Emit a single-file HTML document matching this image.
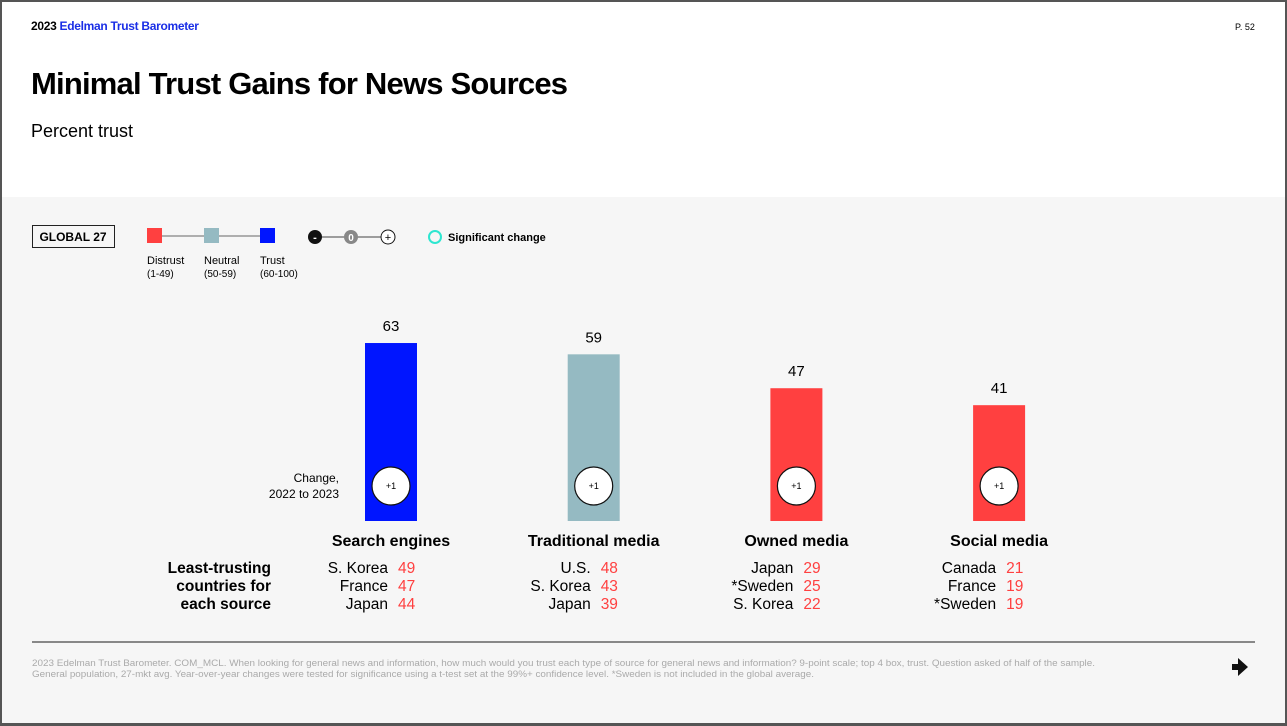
<!DOCTYPE html>
<html><head><meta charset="utf-8"><style>
*{margin:0;padding:0;box-sizing:border-box}
body{width:1287px;height:726px;overflow:hidden;font-family:"Liberation Sans",Arial,sans-serif;background:#555}
#page{position:absolute;left:2px;top:2px;width:1283px;height:721px;background:#f6f6f6}
#top{position:absolute;left:0;top:0;width:1283px;height:195px;background:#fff}
.abs{position:absolute;white-space:nowrap}
</style></head><body>
<div id="page">
<div id="top"></div>
<div class="abs" style="left:29px;top:17px;font-size:12px;font-weight:bold;letter-spacing:-0.3px">2023 <span style="color:#1a2ee6">Edelman Trust Barometer</span></div>
<div class="abs" style="left:1233px;top:20px;font-size:9px">P. 52</div>
<div class="abs" style="left:29px;top:64px;font-size:31px;font-weight:bold;letter-spacing:-0.8px">Minimal Trust Gains for News Sources</div>
<div class="abs" style="left:29px;top:119px;font-size:18px">Percent trust</div>
<svg class="abs" style="left:0;top:0" width="1283" height="721">
<g font-family="Liberation Sans, Arial, sans-serif">
<rect x="30.5" y="223.5" width="82" height="22" fill="none" stroke="#222"/>
<text x="71" y="239" font-size="12" font-weight="bold" text-anchor="middle">GLOBAL 27</text>
<line x1="153" y1="234" x2="266" y2="234" stroke="#666"/>
<rect x="145" y="226" width="15" height="15" fill="#ff4040"/>
<rect x="202" y="226" width="15" height="15" fill="#95bac2"/>
<rect x="258" y="226" width="15" height="15" fill="#0015ff"/>
<text x="145" y="262" font-size="11">Distrust</text><text x="145" y="275" font-size="10">(1-49)</text>
<text x="202" y="262" font-size="11">Neutral</text><text x="202" y="275" font-size="10">(50-59)</text>
<text x="258" y="262" font-size="11">Trust</text><text x="258" y="275" font-size="10">(60-100)</text>
<line x1="313" y1="235" x2="386" y2="235" stroke="#444"/>
<circle cx="313" cy="235" r="7" fill="#111"/><text x="313" y="239" font-size="11" fill="#fff" text-anchor="middle" font-weight="bold">-</text>
<circle cx="349" cy="235" r="7" fill="#888"/><text x="349" y="239" font-size="10" fill="#fff" text-anchor="middle" font-weight="bold">0</text>
<circle cx="386" cy="235" r="7" fill="#fff" stroke="#111"/><text x="386" y="239" font-size="11" text-anchor="middle">+</text>
<circle cx="433" cy="235" r="6" fill="none" stroke="#2ee6d0" stroke-width="2"/>
<text x="446" y="239" font-size="11" font-weight="bold">Significant change</text>
</g>
<text x="337" y="480" font-size="12" text-anchor="end">Change,</text>
<text x="337" y="496" font-size="12" text-anchor="end">2022 to 2023</text>
<g font-size="15.5" font-weight="bold" text-anchor="end">
<text x="269" y="571">Least-trusting</text><text x="269" y="589">countries for</text><text x="269" y="607">each source</text>
</g>
<g id="bars"></g>
<line x1="30" y1="640" x2="1253" y2="640" stroke="#888" stroke-width="2"/>
<text x="30" y="664" font-size="9" fill="#aaa" textLength="1063" lengthAdjust="spacingAndGlyphs">2023 Edelman Trust Barometer. COM_MCL. When looking for general news and information, how much would you trust each type of source for general news and information? 9-point scale; top 4 box, trust. Question asked of half of the sample.</text>
<text x="30" y="675" font-size="9" fill="#aaa" textLength="782" lengthAdjust="spacingAndGlyphs">General population, 27-mkt avg. Year-over-year changes were tested for significance using a t-test set at the 99%+ confidence level. *Sweden is not included in the global average.</text>
<path d="M1236 656 L1246 665 L1236 674 L1236 668 L1230 668 L1230 662 L1236 662 Z" fill="#111"/>
</svg>
</div>
<script>
const categories=["Search engines","Traditional media","Owned media","Social media"];
const trustValues=[63,59,47,41];
const changeLabels=["+1","+1","+1","+1"];
const countries=[["S. Korea","France","Japan"],["U.S.","S. Korea","Japan"],["Japan","*Sweden","S. Korea"],["Canada","France","*Sweden"]];
const countryValues=[[49,47,44],[48,43,39],[29,25,22],[21,19,19]];
const NS="http://www.w3.org/2000/svg";
const g=document.getElementById('bars');
const base=519,scale=2.825,bw=52;
const xc=i=>389+i*202.7;
const y=v=>base-v*scale;
const col=v=>v>=60?"#0015ff":v>=50?"#95bac2":"#ff4040";
function mk(t,a,txt){const e=document.createElementNS(NS,t);for(const k in a)e.setAttribute(k,a[k]);if(txt!==undefined)e.textContent=txt;g.appendChild(e);return e;}
categories.forEach((c,i)=>{
 const v=trustValues[i],x=xc(i);
 const r=mk('rect',{x:x-bw/2,y:y(v),width:bw,height:base-y(v),fill:col(v)});
 
 
 mk('text',{x:x,y:y(v)-12,'font-size':15,'text-anchor':'middle'},v);
 mk('circle',{cx:x,cy:484,r:19,fill:'#fff',stroke:'#111','stroke-width':1.2});
 mk('text',{x:x,y:487,'font-size':9,'text-anchor':'middle'},changeLabels[i]);
 const l=mk('text',{x:x,y:544,'font-size':16,'font-weight':'bold','text-anchor':'middle'},c);
 
 
 countries[i].forEach((n,j)=>{
  mk('text',{x:x-3,y:571+j*18,'font-size':15.5,'text-anchor':'end'},n);
  mk('text',{x:x+7,y:571+j*18,'font-size':15.5,fill:'#ff4040'},countryValues[i][j]);
 });
});
</script>
</body></html>
